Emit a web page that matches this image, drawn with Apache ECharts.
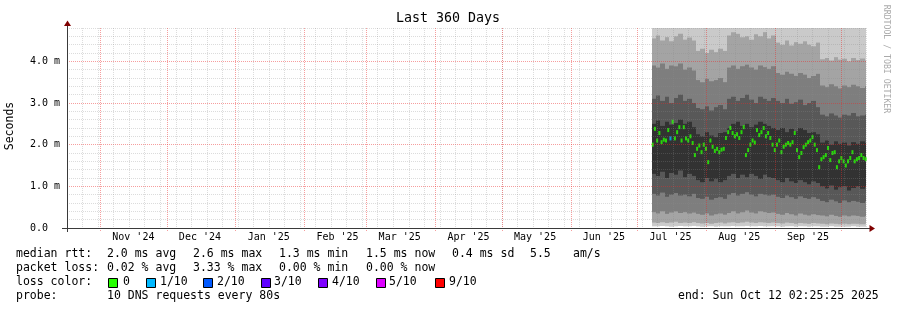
<!DOCTYPE html>
<html><head><meta charset="utf-8">
<script src="https://cdn.jsdelivr.net/npm/echarts@6/dist/echarts.min.js"></script>
<style>html,body{margin:0;padding:0;background:#fff}#c{width:897px;height:310px}</style>
</head><body><div id="c"></div>
<script>
// ---------------- data ----------------
const chartTitle = 'Last 360 Days';
const yAxisName = 'Seconds';
const sideNote = 'RRDTOOL / TOBI OETIKER';
const endTime = '2025-10-12T02:25:25Z';
const spanDays = 360;
const yMax = 4.8;
const weekRef = '2024-10-13T00:00:00Z'; // a Sunday, weekly grid reference
const monthLabels = ["Nov '24","Dec '24","Jan '25","Feb '25","Mar '25","Apr '25","May '25","Jun '25","Jul '25","Aug '25","Sep '25"];
const monthLabelDates = ['2024-11-16','2024-12-16','2025-01-16','2025-02-16','2025-03-16','2025-04-16','2025-05-16','2025-06-16','2025-07-16','2025-08-16','2025-09-16'];
const monthLineDates = ['2024-11-01','2024-12-01','2025-01-01','2025-02-01','2025-03-01','2025-04-01','2025-05-01','2025-06-01','2025-07-01','2025-08-01','2025-09-01','2025-10-01'];

// daily median rtt (ms) starting at firstSample
const firstSample = '2025-07-07T12:00:00Z';
const medianMs = [2.0,2.38,2.1,2.28,2.06,2.12,2.1,2.35,2.15,2.55,
  2.15,2.3,2.42,2.1,2.42,2.15,2.1,2.2,2.04,1.75,
  1.9,1.98,1.82,2.0,1.9,1.58,2.1,1.95,1.85,1.9,
  1.82,1.88,1.9,2.16,2.3,2.4,2.28,2.2,2.25,2.16,
  2.3,2.42,1.75,1.87,2.0,2.1,2.05,2.35,2.23,2.3,
  2.4,2.2,2.28,2.16,2.0,1.87,2.0,2.1,1.82,1.95,
  2.0,2.04,2.0,2.06,2.28,1.87,1.7,1.8,1.94,2.0,
  2.06,2.1,2.18,2.0,1.87,1.46,1.65,1.7,1.75,1.92,
  1.63,1.8,1.82,1.46,1.6,1.68,1.6,1.5,1.6,1.68,
  1.82,1.6,1.65,1.68,1.75,1.68,1.65];
// days with packet loss (index into medianMs, loss level in tenths); all other days 0
const lossDays = [[8, 1]];

// smoke: sorted ping values (ms), one set per 2-day step starting at firstSample
const smokeStepDays = 2;
const p1 = [0.04,0.04,0.05,0.04,0.03,0.04,0.05,0.04,0.04,0.05, 0.04,0.03,0.04,0.04,0.03,0.04,0.04, 0.04,0.05,0.04,0.04,0.05,0.04,0.04,0.05,0.04,0.04,0.04, 0.04,0.03,0.04,0.04,0.03,0.04,0.04,0.03,0.04,0.04, 0.03,0.03,0.04,0.03,0.03,0.03,0.03,0.04,0.03,0.03,0.03];
const p2 = [0.13,0.12,0.14,0.12,0.13,0.15,0.12,0.13,0.12,0.14, 0.12,0.11,0.12,0.1,0.12,0.13,0.11, 0.13,0.14,0.12,0.13,0.15,0.13,0.12,0.14,0.13,0.12,0.13, 0.12,0.11,0.13,0.12,0.1,0.12,0.11,0.1,0.12,0.11, 0.1,0.09,0.11,0.1,0.09,0.1,0.09,0.1,0.1,0.09,0.1];
const p3 = [0.38,0.35,0.4,0.34,0.37,0.4,0.36,0.38,0.35,0.37, 0.34,0.32,0.35,0.3,0.33,0.35,0.32, 0.36,0.4,0.35,0.38,0.42,0.37,0.35,0.4,0.38,0.36,0.37, 0.34,0.32,0.36,0.33,0.3,0.35,0.32,0.3,0.33,0.31, 0.3,0.28,0.32,0.29,0.27,0.3,0.28,0.3,0.29,0.27,0.29];
const p4 = [0.82,0.78,0.85,0.75,0.8,0.84,0.78,0.8,0.76,0.82, 0.72,0.7,0.75,0.68,0.72,0.74,0.7, 0.8,0.84,0.78,0.82,0.86,0.8,0.76,0.82,0.8,0.78,0.8, 0.75,0.72,0.78,0.74,0.7,0.76,0.72,0.7,0.74,0.7, 0.65,0.62,0.68,0.64,0.6,0.66,0.62,0.65,0.63,0.6,0.64];
const p5 = [1.3,1.25,1.35,1.2,1.32,1.28,1.38,1.22,1.3,1.25, 1.15,1.1,1.2,1.12,1.18,1.1,1.15, 1.25,1.3,1.2,1.28,1.22,1.3,1.25,1.18,1.28,1.22,1.2, 1.15,1.1,1.2,1.12,1.08,1.15,1.1,1.05,1.12,1.08, 1.0,0.95,1.02,0.92,0.98,1.0,0.9,0.96,1.0,0.94,0.98];
const p6 = [2.5,2.58,2.45,2.55,2.48,2.52,2.6,2.5,2.55,2.42, 2.25,2.2,2.3,2.22,2.18,2.28,2.3, 2.4,2.5,2.55,2.45,2.5,2.42,2.48,2.55,2.5,2.45,2.4, 2.35,2.4,2.3,2.38,2.32,2.4,2.35,2.28,2.3,2.25, 2.05,2.1,2.0,2.08,2.02,2.05,1.98,2.06,2.02,2.08,2.04];
const p7 = [3.1,3.18,3.05,3.15,3.0,3.12,3.2,3.05,3.1,3.0, 2.88,2.85,2.92,2.82,2.9,2.95,2.85, 3.1,3.15,3.05,3.12,3.2,3.08,3.0,3.15,3.1,3.05,3.12, 3.05,3.0,3.1,2.98,3.02,3.08,2.95,3.0,3.05,2.9, 2.72,2.68,2.75,2.7,2.65,2.72,2.7,2.76,2.68,2.7,2.72];
const p8 = [3.9,3.85,3.95,3.82,3.9,3.88,3.95,3.8,3.85,3.78, 3.55,3.5,3.58,3.52,3.55,3.6,3.5, 3.85,3.9,3.82,3.88,3.92,3.85,3.8,3.9,3.86,3.82,3.88, 3.72,3.68,3.75,3.7,3.65,3.72,3.68,3.6,3.65,3.7, 3.42,3.38,3.45,3.4,3.35,3.42,3.38,3.44,3.4,3.36,3.4];
const p9 = [4.55,4.62,4.5,4.58,4.48,4.6,4.66,4.52,4.57,4.5, 4.25,4.3,4.2,4.28,4.22,4.3,4.25, 4.62,4.7,4.66,4.58,4.6,4.52,4.65,4.6,4.7,4.55,4.62, 4.45,4.4,4.5,4.38,4.46,4.42,4.48,4.4,4.36,4.45, 4.05,4.08,4.02,4.1,4.04,4.06,4.0,4.08,4.03,4.07,4.02];
const p10 = [5.8,6.0,5.7,5.9,5.8,6.1,5.9,5.8,6.0,5.7, 5.5,5.6,5.4,5.6,5.5,5.7,5.5, 6.0,6.1,5.9,6.0,5.8,6.0,5.9,6.1,5.8,6.0,5.9, 5.7,5.8,5.6,5.7,5.9,5.6,5.8,5.7,5.6,5.8, 5.3,5.4,5.2,5.4,5.3,5.2,5.4,5.3,5.2,5.4,5.3];

// legend texts
const lossLevels = ['0','1/10','2/10','3/10','4/10','5/10','9/10'];
const lossColors = ['#26ff00','#00b8ff','#0059ff','#5e00ff','#7e00ff','#dd00ff','#ff0000'];
const rttStats = ['median rtt:','2.0 ms avg','2.6 ms max','1.3 ms min','1.5 ms now','0.4 ms sd','5.5','am/s'];
const lossStats = ['packet loss:','0.02 % avg','3.33 % max','0.00 % min','0.00 % now'];
const lossColorLabel = 'loss color:';
const probeLabel = ['probe:','10 DNS requests every 80s'];
const endLabel = 'end: Sun Oct 12 02:25:25 2025';

// ---------------- helpers ----------------
const DAY = 86400000;
const ref = Date.parse(weekRef);
const toDays = s => (Date.parse(s.length === 10 ? s + 'T00:00:00Z' : s) - ref) / DAY;
const xMax = toDays(endTime);
const xMin = xMax - spanDays;
const first = toDays(firstSample);

const lossMap = new Map(lossDays);
const medianData = medianMs.map((v, i) => [first + i + 0.5, v, lossMap.get(i) || 0]);
const smokeData = p1.map((_, i) => [first + i * smokeStepDays, p1[i], p2[i], p3[i], p4[i], p5[i], p6[i], p7[i], p8[i], p9[i], p10[i]]);
const monthLineData = monthLineDates.map(d => [toDays(d)]);
const shades = ['#cacaca', '#a4a4a4', '#7e7e7e', '#585858', '#323232'];

const labelVals = monthLabelDates.map(toDays);
const labelMap = new Map(labelVals.map((v, i) => [Math.round(v * 1000), monthLabels[i]]));

const gridGray = 'rgba(140,140,140,0.3)';
const gridRed = 'rgba(235,40,40,0.45)';
const mono = 'DejaVu Sans Mono';
const legendFont = '11.5px "DejaVu Sans Mono"';

function txt(x, y, s, extra) {
  return Object.assign({ type: 'text', x: x, y: y, z: 100,
    style: { text: s, font: legendFont, fill: '#000', align: 'left', verticalAlign: 'middle' } }, extra || {});
}

const graphics = [
  { type: 'text', x: 448, y: 19, z: 100, style: { text: chartTitle, font: '13.3px "DejaVu Sans Mono"', fill: '#000', align: 'center', verticalAlign: 'middle' } },
  { type: 'text', x: 10, y: 126, rotation: Math.PI / 2, z: 100, style: { text: yAxisName, font: '11.5px "DejaVu Sans Mono"', fill: '#000', align: 'center', verticalAlign: 'middle' } },
  { type: 'text', x: 886.5, y: 59, rotation: -Math.PI / 2, z: 100, style: { text: sideNote, font: '8.2px "DejaVu Sans Mono"', fill: '#aaaaaa', align: 'center', verticalAlign: 'middle' } },
  { type: 'line', z: 100, shape: { x1: 67.5, y1: 232, x2: 67.5, y2: 25 }, style: { stroke: '#3a3a3a', lineWidth: 1 } },
  { type: 'line', z: 100, shape: { x1: 62, y1: 228.5, x2: 870, y2: 228.5 }, style: { stroke: '#3a3a3a', lineWidth: 1 } },
  { type: 'polygon', z: 101, shape: { points: [[67.5, 20.5], [64, 26], [71, 26]] }, style: { fill: '#800000' } },
  { type: 'polygon', z: 101, shape: { points: [[875, 228.5], [869.5, 225], [869.5, 232]] }, style: { fill: '#800000' } }
];

const l1x = [16, 107, 193, 279, 366, 452, 530, 573];
rttStats.forEach((s, i) => graphics.push(txt(l1x[i], 254.5, s)));
const l2x = [16, 107, 193, 279, 366];
lossStats.forEach((s, i) => graphics.push(txt(l2x[i], 268.5, s)));
graphics.push(txt(16, 282.5, lossColorLabel));
const sqx = [108, 146, 203, 261, 318, 376, 435];
const lbx = [123, 160, 217, 274, 332, 389, 449];
lossLevels.forEach((s, i) => {
  graphics.push({ type: 'rect', z: 100, shape: { x: sqx[i] + 0.5, y: 278.5, width: 9, height: 9 }, style: { fill: lossColors[i], stroke: '#000', lineWidth: 1 } });
  graphics.push(txt(lbx[i], 282.5, s));
});
graphics.push(txt(16, 296.5, probeLabel[0]));
graphics.push(txt(107, 296.5, probeLabel[1]));
graphics.push(txt(678, 296.5, endLabel));

const chart = echarts.init(document.getElementById('c'), null, { renderer: 'canvas' });
chart.setOption({
  animation: false,
  backgroundColor: '#ffffff',
  grid: { left: 67, right: 31, top: 28, bottom: 82, containLabel: false },
  xAxis: {
    type: 'value', min: xMin, max: xMax, interval: 7, z: 5,
    axisLine: { show: false }, axisTick: { show: false },
    splitLine: { show: true, lineStyle: { color: gridGray, type: [1, 1], width: 1 } },
    axisLabel: {
      customValues: labelVals, margin: 4,
      fontFamily: mono, fontSize: 10, color: '#000',
      formatter: v => labelMap.get(Math.round(v * 1000)) || ''
    }
  },
  yAxis: {
    type: 'value', min: 0, max: yMax, interval: 0.2, z: 5,
    axisLine: { show: false }, axisTick: { show: false },
    splitLine: { show: true, lineStyle: { color: [gridRed, gridGray, gridGray, gridGray, gridGray], type: [1, 1], width: 1 } },
    axisLabel: {
      align: 'left', margin: 37, fontFamily: mono, fontSize: 10, color: '#000',
      formatter: v => {
        const r = Math.round(v);
        if (Math.abs(v - r) > 1e-6 || r > 4) return '';
        return r === 0 ? '0.0' : r.toFixed(1) + ' m';
      }
    }
  },
  series: [
    {
      type: 'custom', z: 2, silent: true,
      data: smokeData,
      encode: { x: 0, y: 1 },
      renderItem: (params, api) => {
        const x0 = api.value(0), x1 = x0 + smokeStepDays;
        const cs = params.coordSys;
        const children = [];
        for (let i = 0; i < 5; i++) {
          const lo = api.value(1 + i), hi = api.value(10 - i);
          const a = api.coord([x0, hi]), b = api.coord([x1, lo]);
          const xa = Math.round(a[0]), xb = Math.round(b[0]);
          const r = echarts.graphic.clipRectByRect(
            { x: xa, y: a[1], width: xb - xa, height: b[1] - a[1] },
            { x: cs.x, y: cs.y, width: cs.width, height: cs.height });
          if (r) children.push({ type: 'rect', shape: r, style: { fill: shades[i] } });
        }
        return { type: 'group', children: children };
      }
    },
    {
      type: 'scatter', z: 3, silent: true,
      data: medianData,
      symbol: 'rect', symbolSize: [2, 4],
      itemStyle: { color: p => lossColors[p.data[2]] }
    },
    {
      type: 'custom', z: 8, silent: true,
      data: monthLineData,
      encode: { x: 0 },
      renderItem: (params, api) => {
        const cs = params.coordSys;
        const x = Math.round(api.coord([api.value(0), 0])[0]) + 0.5;
        return { type: 'line', shape: { x1: x, y1: cs.y, x2: x, y2: cs.y + cs.height + 3 },
          style: { stroke: gridRed, lineWidth: 1, lineDash: [1, 1] } };
      }
    }
  ],
  graphic: graphics
});
</script></body></html>
